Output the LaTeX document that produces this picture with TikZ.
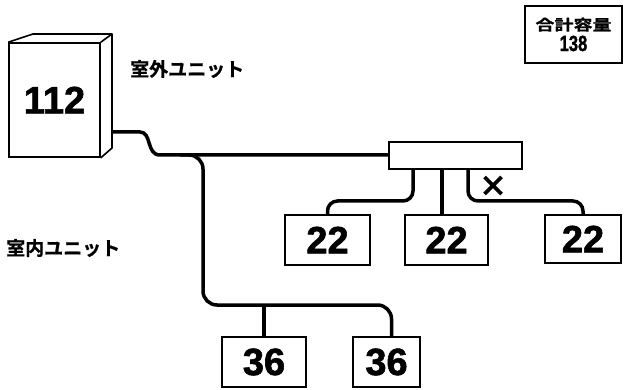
\documentclass[tikz,border=0pt]{standalone}
\usepackage{fontspec}
\setmainfont{Liberation Sans}
\newfontfamily\heavy{Liberation Sans Bold}[FakeBold=1.6]
\newfontfamily\jp{Noto Sans CJK JP Bold}[FakeBold=0.8]
\begin{document}
\begin{tikzpicture}[x=1pt,y=-1pt,
  unit/.style={draw,line width=1.6pt,inner sep=0pt,font=\heavy\fontsize{38}{38}\selectfont},
  pipe/.style={line width=3.5pt},
  lbl/.style={font=\jp\fontsize{19}{19}\selectfont,inner sep=0pt},
  xmark/.style={line width=3.6pt}]
\useasboundingbox (0,0) rectangle (624,390);
% outdoor unit
\node[unit,minimum width=91pt,minimum height=114pt] (out) at (54.5,100) {112};
\draw[line width=1.6pt,line join=round] (out.north west) -- (33,34) -- (112,34) -- (out.north east)
  (112,34) -- (112,148) -- (out.south east);
\coordinate (p0) at (112,132);
% branch box and indoor units
\node[draw,line width=1.6pt,minimum width=133pt,minimum height=27pt,inner sep=0pt] (br) at (455.5,155.5) {};
\node[unit,minimum width=85pt,minimum height=50pt] (i1) at (327.5,240) {22};
\node[unit,minimum width=83pt,minimum height=50pt] (i2) at (446.5,240) {22};
\node[unit,minimum width=76pt,minimum height=48pt] (i3) at (583,239) {22};
\node[unit,minimum width=84pt,minimum height=50pt] (j1) at (264,362) {36};
\node[unit,minimum width=67pt,minimum height=50pt] (j2) at (386.5,362) {36};
% total
\node[draw,line width=1.4pt,minimum width=97pt,minimum height=57pt,inner sep=0pt,align=center] (tot) at (573.5,34.5)
  {{\jp\fontsize{19}{18}\selectfont\scalebox{1}[0.78]{合計容量}}\\[3pt]
   {\heavy\fontsize{22}{22}\selectfont\scalebox{0.75}[1]{138}}};
% labels
\node[lbl,anchor=west] (ol) at (130,69) {室外ユニット};
\node[lbl,anchor=west] (il) at (6,248) {室内ユニット};
% pipes
\coordinate (h1) at (180,155);
\coordinate (h2) at (203,305);
\coordinate (c1) at (0,201);
\draw[pipe] (p0) -- (140,132) .. controls (152,132) and (146,155) .. (160,155) -- (br.west |- h1);
\draw[pipe,rounded corners=14pt] (h1) -| (h2) -| ([xshift=5pt]j2.north);
\draw[pipe] (j1.north) -- (j1.north |- h2);
\draw[pipe,rounded corners=10pt] ([xshift=-42.5pt]br.south) |- (i1.north |- c1) -- (i1.north);
\draw[pipe] ([xshift=-13.5pt]br.south) -- ([xshift=-4.5pt]i2.north);
\draw[pipe,rounded corners=10pt] ([xshift=12.5pt]br.south) |- (i3.north |- c1) -- (i3.north);
% cut mark
\draw[xmark] (484.5,177) -- (501.5,194) (501.5,177) -- (484.5,194);
\end{tikzpicture}
\end{document}
